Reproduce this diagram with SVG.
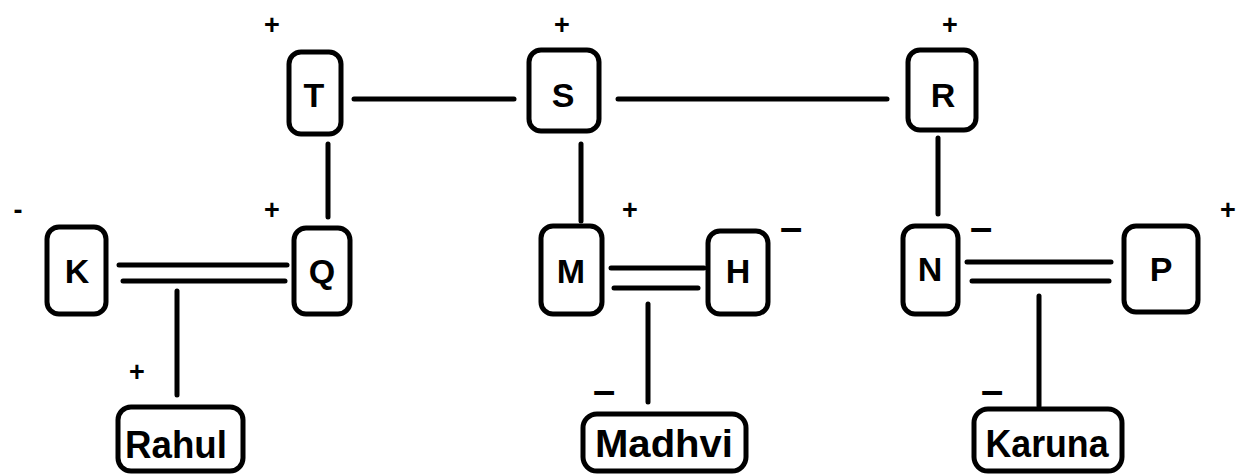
<svg xmlns="http://www.w3.org/2000/svg" width="1244" height="474" viewBox="0 0 1244 474">
<style>
.box{fill:#fff;stroke:#000;stroke-width:5}
.lbl{font-family:"Liberation Sans",Arial,sans-serif;font-weight:bold;font-size:34px;fill:#000;text-anchor:middle}
.name{font-family:"Liberation Sans",Arial,sans-serif;font-weight:bold;font-size:38px;fill:#000;text-anchor:middle}
.sign{font-family:"Liberation Sans",Arial,sans-serif;font-weight:bold;font-size:27px;fill:#000;text-anchor:middle}
.dash{font-family:"Liberation Sans",Arial,sans-serif;font-weight:bold;font-size:40px;fill:#000;text-anchor:middle}
.ln{stroke:#000;stroke-width:5;stroke-linecap:round;fill:none}
</style>
<rect width="1244" height="474" fill="#fff"/>
<g id="connectors">
<line class="ln" x1="354" y1="99" x2="514" y2="99"/>
<line class="ln" x1="618" y1="99" x2="887" y2="99"/>
<line class="ln" x1="328" y1="144" x2="328" y2="217"/>
<line class="ln" x1="581" y1="144" x2="581" y2="221"/>
<line class="ln" x1="938" y1="138" x2="938" y2="214"/>
<line class="ln" x1="119" y1="265" x2="287" y2="265"/>
<line class="ln" x1="123" y1="281" x2="285" y2="281"/>
<line class="ln" x1="177" y1="291" x2="177" y2="395"/>
<line class="ln" x1="611" y1="268" x2="704" y2="268"/>
<line class="ln" x1="614" y1="288" x2="698" y2="288"/>
<line class="ln" x1="648" y1="304" x2="648" y2="402"/>
<line class="ln" x1="967" y1="262" x2="1111" y2="262"/>
<line class="ln" x1="972" y1="281" x2="1109" y2="281"/>
<line class="ln" x1="1039" y1="296" x2="1039" y2="406"/>
</g>
<g id="node-T"><rect class="box" x="289" y="52" width="52" height="82" rx="12"/><text class="lbl" x="314" y="107">T</text><text class="sign" x="272" y="34">+</text></g>
<g id="node-S"><rect class="box" x="529" y="50" width="70" height="81" rx="12"/><text class="lbl" x="563" y="107">S</text><text class="sign" x="562" y="34">+</text></g>
<g id="node-R"><rect class="box" x="908" y="50" width="68" height="80" rx="12"/><text class="lbl" x="943" y="107">R</text><text class="sign" x="950" y="34">+</text></g>
<g id="node-K"><rect class="box" x="47" y="227" width="59" height="87" rx="12"/><text class="lbl" x="77" y="283">K</text><text class="sign" x="18" y="219">-</text></g>
<g id="node-Q"><rect class="box" x="294" y="228" width="56" height="86" rx="12"/><text class="lbl" x="322" y="283">Q</text><text class="sign" x="272" y="219">+</text></g>
<g id="node-M"><rect class="box" x="541" y="226" width="61" height="88" rx="12"/><text class="lbl" x="571" y="283">M</text><text class="sign" x="630" y="219">+</text></g>
<g id="node-H"><rect class="box" x="708" y="231" width="60" height="83" rx="12"/><text class="lbl" x="738" y="283">H</text><text class="dash" x="791" y="241">–</text></g>
<g id="node-N"><rect class="box" x="903" y="226" width="55" height="88" rx="12"/><text class="lbl" x="930" y="281">N</text><text class="dash" x="981" y="241">–</text></g>
<g id="node-P"><rect class="box" x="1124" y="226" width="74" height="86" rx="12"/><text class="lbl" x="1161" y="281">P</text><text class="sign" x="1228" y="219">+</text></g>
<g id="node-Rahul"><rect class="box" x="118" y="407" width="125" height="64" rx="13"/><text class="name" x="176" y="458" textLength="102" lengthAdjust="spacingAndGlyphs">Rahul</text><text class="sign" x="137" y="381">+</text></g>
<g id="node-Madhvi"><rect class="box" x="583" y="414" width="163" height="57" rx="14"/><text class="name" x="664" y="457" textLength="138" lengthAdjust="spacingAndGlyphs">Madhvi</text><text class="dash" x="604" y="404">–</text></g>
<g id="node-Karuna"><rect class="box" x="974" y="409" width="148" height="62" rx="14"/><text class="name" x="1047" y="457" textLength="123" lengthAdjust="spacingAndGlyphs">Karuna</text><text class="dash" x="992" y="404">–</text></g>
</svg>
